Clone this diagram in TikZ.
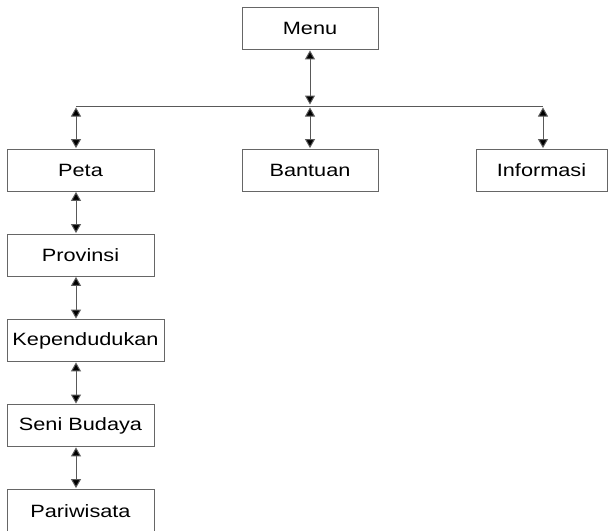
\documentclass[tikz,border=0pt]{standalone}
\usepackage{fontspec}
\setmainfont{Liberation Sans}
\usetikzlibrary{arrows.meta,calc}
\begin{document}
\begin{tikzpicture}[x=1pt,y=-1pt,
  menubox/.style={draw=black!60, line width=0.9pt, fill=white, inner sep=0pt,
    minimum height=42pt, font=\fontsize{17.8}{20}\selectfont},
  link/.style={draw=black!65, line width=1pt,
    {Triangle[length=9pt,width=10pt,fill=black]}-{Triangle[length=9pt,width=10pt,fill=black]},
    shorten <=0.5pt, shorten >=0.5pt},
  bus/.style={draw=black!65, line width=0.9pt}]
\useasboundingbox (0,0) rectangle (609,530);
\newcommand{\lbl}[1]{\scalebox{1.22}[1]{#1}}

% boxes
\node[menubox, minimum width=136pt] (menu) at (310,28.5) {\lbl{Menu}};
\node[menubox, minimum width=136pt] (bantuan) at (310,170) {\lbl{Bantuan}};
\node[menubox, minimum width=147pt] (peta) at (80.5,170) {\lbl{Peta}};
\node[menubox, minimum width=131pt] (info) at (541.5,170) {\lbl{Informasi}};
\node[menubox, minimum width=147pt] (prov) at (80.5,255) {\lbl{Provinsi}};
\node[menubox, minimum width=157pt] (kepend) at (85.5,340.5) {\lbl{Kependudukan}};
\node[menubox, minimum width=147pt] (seni) at (80.5,425.5) {\lbl{Seni Budaya}};
\node[menubox, minimum width=147pt, minimum height=44pt] (pari) at (80.5,511) {\lbl{Pariwisata}};

% horizontal distribution line
\coordinate (busL) at (76,106);
\coordinate (busM) at (310,106);
\coordinate (busR) at (543,106);
\draw[bus] (busL) -- (busR);

% menu to bus
\draw[link] (menu.south) -- ($(busM)+(0,-1)$);

% bus to first-level items
\draw[link] ($(busL)+(0,1)$) -- (busL |- peta.north);
\draw[link] ($(busM)+(0,1)$) -- (bantuan.north);
\draw[link] ($(busR)+(0,1)$) -- (busR |- info.north);

% chain below Peta
\draw[link] (busL |- peta.south) -- (busL |- prov.north);
\draw[link] (busL |- prov.south) -- (busL |- kepend.north);
\draw[link] (busL |- kepend.south) -- (busL |- seni.north);
\draw[link] (busL |- seni.south) -- (busL |- pari.north);
\end{tikzpicture}
\end{document}
